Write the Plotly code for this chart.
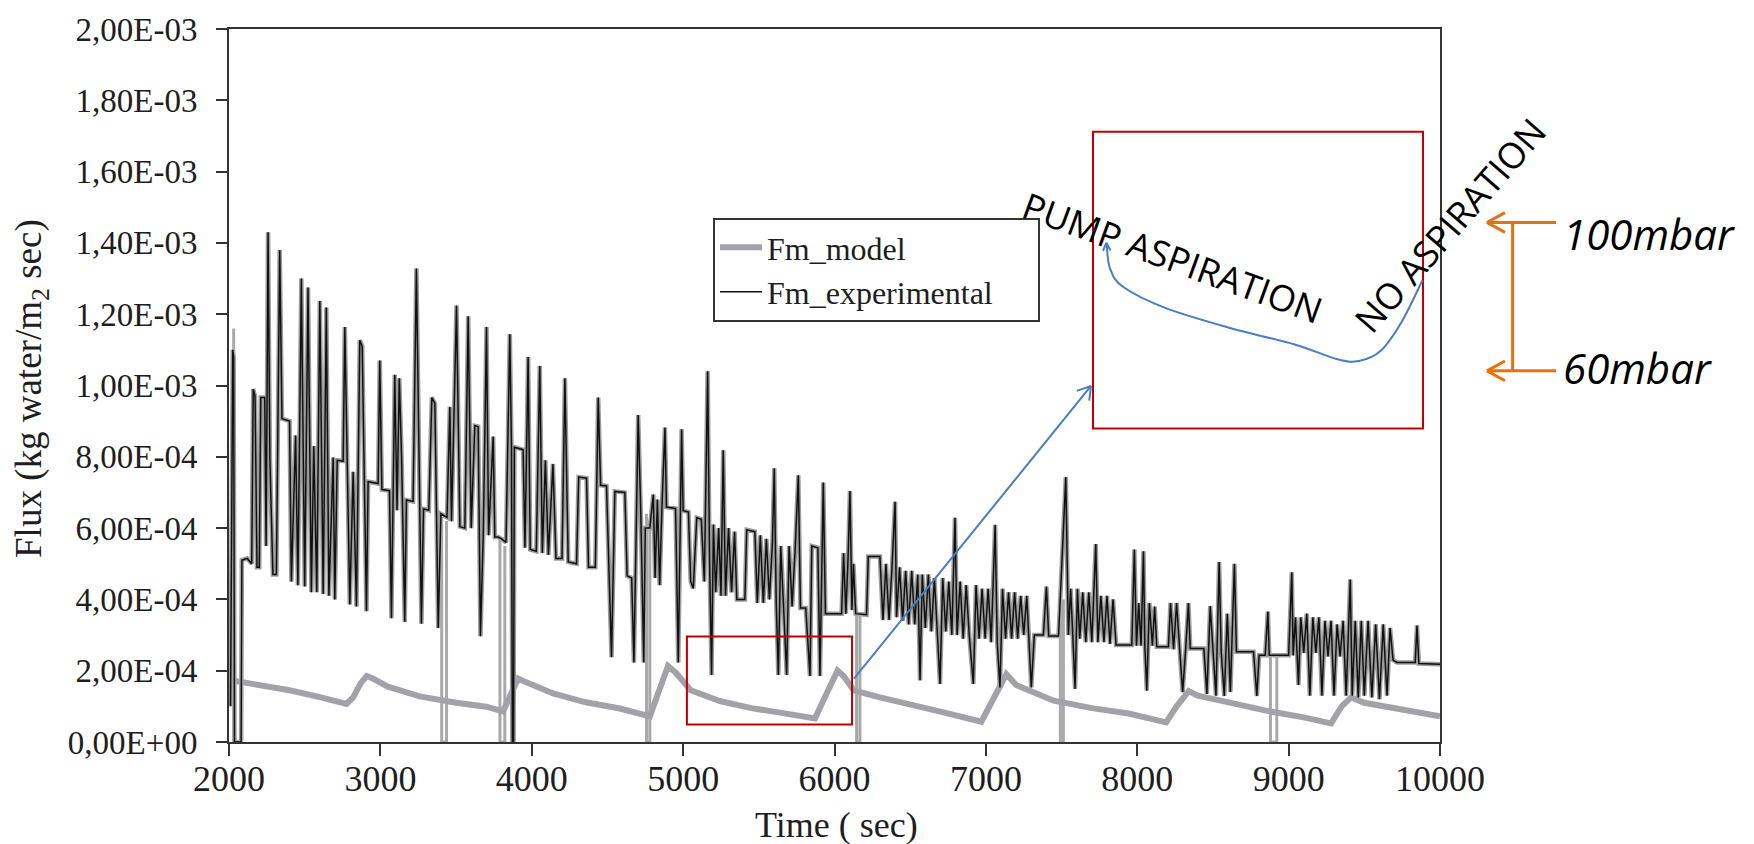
import plotly.graph_objects as go
import math

# ---------------- data (flux values in units of 1e-4 kg water / m2 sec) ----------------
model_time = [2000, 2200, 2400, 2600, 2776,
              2820, 2870, 2910, 2950, 3050,
              3260, 3500, 3700, 3810, 3860,
              3910, 3960, 4141, 4350, 4582,
              4780, 4830, 4900, 4950, 5050,
              5242, 5450, 5630, 5871, 5930,
              6020, 6060, 6127, 6300, 6456,
              6700, 6970, 7050, 7135, 7200,
              7448, 7700, 7943, 8191, 8260,
              8340, 8400, 8604, 8850, 9100,
              9280, 9350, 9412, 9500, 9700,
              10000]
model_flux = [1.74, 1.60, 1.45, 1.26, 1.07,
              1.25, 1.65, 1.85, 1.78, 1.55,
              1.28, 1.10, 0.99, 0.86, 1.30,
              1.78, 1.68, 1.36, 1.12, 0.94,
              0.72, 1.30, 2.13, 1.95, 1.45,
              1.15, 0.95, 0.83, 0.66, 1.20,
              2.00, 1.85, 1.45, 1.25, 1.11,
              0.85, 0.57, 1.20, 1.90, 1.60,
              1.16, 0.95, 0.80, 0.55, 1.00,
              1.43, 1.30, 1.11, 0.88, 0.69,
              0.52, 1.00, 1.25, 1.10, 0.95,
              0.72]

exp_time_a = [2010, 2025, 2031, 2036, 2080,
              2085, 2120, 2150, 2160, 2172,
              2185, 2200, 2210, 2236, 2245,
              2258, 2270, 2290, 2313, 2335,
              2350, 2400, 2412, 2440, 2455,
              2478, 2500, 2522, 2544, 2560,
              2580, 2600, 2622, 2643, 2660,
              2688, 2699, 2715, 2754, 2765,
              2798, 2820, 2842, 2864, 2880,
              2908, 2919, 2985, 2996, 3010,
              3060, 3073, 3095, 3110, 3125,
              3140, 3161, 3172, 3216, 3238,
              3271, 3285, 3320, 3340, 3360,
              3382, 3400]
exp_flux_a = [1.0, 11.0, 10.8, 0.0, 0.0,
              5.1, 5.15, 5.0, 9.9, 9.7,
              4.9, 4.9, 9.66, 9.66, 5.5,
              14.3, 8.0, 4.7, 4.7, 13.8,
              9.07, 9.0, 4.5, 8.6, 4.4,
              13.0, 4.36, 12.75, 4.2, 8.3,
              4.2, 12.37, 4.15, 12.19, 4.1,
              7.98, 4.0, 7.9, 7.88, 11.64,
              3.86, 7.58, 3.8, 11.27, 11.1,
              3.67, 7.3, 7.25, 10.7, 7.08,
              7.05, 3.47, 10.3, 6.5, 10.2,
              8.0, 3.37, 6.79, 6.75, 13.28,
              3.32, 6.54, 6.5, 9.66, 9.5,
              3.2, 6.4]

exp_time_b = [3440, 3459, 3470, 3503, 3525,
              3558, 3580, 3600, 3624, 3646,
              3661, 3680, 3701, 3715, 3745,
              3756, 3778, 3800, 3830, 3855,
              3866, 3872, 3880, 3885, 3943,
              3955, 3976, 3990, 4030, 4053,
              4070, 4090, 4110, 4140, 4160,
              4200, 4219, 4241, 4296, 4310,
              4362, 4375, 4420, 4439, 4455,
              4494, 4527, 4549, 4615, 4630,
              4660, 4675, 4703, 4720, 4740,
              4750]
exp_flux_b = [6.3, 9.4, 6.19, 12.24, 6.04,
              6.0, 11.94, 6.0, 8.87, 8.85,
              2.97, 5.9, 11.64, 5.8, 8.57,
              5.75, 5.75, 5.7, 5.6, 11.44,
              8.3, 0.0, 0.0, 8.27, 8.2,
              5.45, 10.8, 5.4, 5.35, 10.55,
              5.3, 7.9, 5.25, 7.8, 5.15,
              5.15, 10.2, 5.05, 5.0, 7.43,
              7.4, 4.9, 4.9, 9.66, 7.2,
              7.18, 2.38, 7.03, 7.0, 4.66,
              4.6, 2.23, 9.17, 6.5, 2.23,
              6.0]

exp_time_c = [4780, 4803, 4815, 4830, 4845,
              4860, 4880, 4890, 4950, 4968,
              4990, 5000, 5035, 5050, 5067,
              5090, 5120, 5140, 5162, 5175,
              5188, 5200, 5215, 5235, 5250,
              5265, 5280, 5300, 5320, 5340,
              5355, 5408, 5420, 5474, 5490,
              5510, 5530, 5550, 5570, 5590,
              5602, 5615, 5629, 5645, 5665,
              5684, 5700, 5720, 5740, 5761,
              5775, 5810, 5838, 5850, 5890,
              5904, 5926, 5940, 6047, 6060,
              6075, 6090, 6102, 6115, 6125,
              6140]
exp_flux_c = [6.0, 6.94, 4.6, 6.8, 4.4,
              6.6, 8.82, 6.59, 6.55, 2.23,
              8.77, 6.49, 6.45, 4.5, 4.31,
              6.29, 6.25, 4.5, 10.4, 5.0,
              1.88, 6.1, 4.2, 6.0, 4.1,
              8.18, 4.1, 6.0, 4.2, 5.9,
              4.0, 4.0, 5.95, 5.9, 3.9,
              5.8, 3.9, 5.7, 4.0, 5.6,
              7.68, 3.9, 1.88, 5.5, 3.8,
              1.88, 5.5, 3.8, 5.4, 7.48,
              3.76, 3.76, 1.85, 5.5, 5.45,
              1.85, 7.28, 3.6, 3.6, 5.3,
              3.6, 5.2, 7.04, 3.7, 5.0,
              3.6]

exp_time_d = [6212, 6223, 6300, 6320, 6340,
              6360, 6380, 6400, 6410, 6430,
              6450, 6470, 6490, 6510, 6530,
              6550, 6565, 6580, 6600, 6620,
              6640, 6660, 6680, 6697, 6715,
              6735, 6755, 6775, 6796, 6810,
              6830, 6850, 6870, 6890, 6917,
              6935, 6955, 6975, 6995, 7015,
              7035, 7061, 7075, 7093, 7110,
              7130, 7150, 7170, 7190, 7210,
              7230, 7250, 7270, 7300, 7320,
              7380, 7400, 7415, 7480, 7528,
              7545, 7560, 7575, 7589]
exp_flux_d = [3.57, 5.2, 5.2, 3.42, 5.0,
              3.42, 4.9, 6.74, 3.5, 4.9,
              3.4, 4.8, 3.3, 4.8, 3.3,
              4.7, 1.73, 4.7, 3.2, 4.7,
              3.1, 4.6, 3.0, 1.63, 4.6,
              3.1, 4.5, 3.0, 6.29, 3.0,
              4.5, 2.9, 4.4, 3.0, 1.63,
              4.4, 2.9, 4.3, 2.9, 4.3,
              2.8, 6.09, 2.8, 1.53, 4.3,
              2.9, 4.2, 2.9, 4.2, 2.9,
              4.1, 3.0, 4.1, 1.53, 3.0,
              3.0, 4.36, 2.97, 2.97, 7.43,
              3.0, 4.3, 2.9, 1.49]

exp_time_e = [7605, 7620, 7640, 7660, 7680,
              7700, 7726, 7740, 7760, 7780,
              7800, 7820, 7840, 7860, 7964,
              7981, 7995, 8010, 8025, 8041,
              8050, 8063, 8080, 8100, 8115,
              8129, 8206, 8220, 8240, 8260,
              8280, 8300, 8320, 8338, 8350,
              8440, 8460, 8482, 8500, 8520,
              8541, 8555, 8575, 8595, 8615,
              8642, 8655, 8768, 8790, 8805,
              8845, 8863, 8872, 9000, 9021,
              9030, 9045, 9065, 9080, 9100,
              9120, 9140, 9160, 9180, 9200,
              9220, 9240, 9260, 9280, 9300,
              9320, 9340, 9360, 9380, 9407,
              9420, 9440, 9460, 9480, 9500,
              9525, 9550, 9575, 9600, 9625,
              9650, 9670, 9690, 9715, 9836,
              9848, 9860, 10000]
exp_flux_e = [4.3, 2.9, 4.2, 2.8, 4.2,
              2.8, 5.55, 2.8, 4.1, 2.8,
              4.1, 2.75, 4.0, 2.72, 2.72,
              5.4, 2.7, 3.9, 2.7, 5.35,
              2.7, 1.44, 3.9, 2.7, 3.8,
              2.67, 2.67, 3.9, 2.6, 3.9,
              2.6, 1.4, 2.62, 3.9, 2.62,
              2.62, 1.35, 3.81, 2.6, 1.3,
              5.05, 2.5, 1.29, 3.6, 1.4,
              5.0, 2.53, 2.53, 1.29, 2.43,
              2.43, 3.66, 2.43, 2.43, 4.76,
              2.43, 3.5, 1.6, 3.5, 2.5,
              3.6, 1.3, 3.5, 2.5, 3.5,
              1.3, 3.4, 2.4, 3.4, 1.3,
              3.3, 2.4, 3.4, 1.3, 4.56,
              1.3, 3.4, 1.25, 3.4, 1.3,
              3.4, 1.25, 3.3, 1.2, 3.3,
              1.3, 3.2, 2.3, 2.23, 2.23,
              3.27, 2.2, 2.18]

# short drops of the experimental signal to zero (drawn grey)
drop_down_time = [2031, 3405, 3790, 4758, 6146, 7492, 8880]
drop_up_time = [2082, 3437, 3822, 4780, 6168, 7512, 8922]
drop_top_down = [11.6, 6.4, 5.7, 6.4, 3.6, 4.4, 2.5]
drop_top_up = [5.1, 6.2, 5.5, 6.0, 3.6, 4.0, 2.45]

# highlighted region (time, flux e-4)
zoom_box_time = [5025, 6116]
zoom_box_flux = [0.49, 2.96]

x_tick_vals = [2000, 3000, 4000, 5000, 6000, 7000, 8000, 9000, 10000]
x_tick_text = ["2000", "3000", "4000", "5000", "6000", "7000", "8000", "9000", "10000"]
y_tick_vals_e4 = [0, 2, 4, 6, 8, 10, 12, 14, 16, 18, 20]
y_tick_text = ["0,00E+00", "2,00E-04", "4,00E-04", "6,00E-04", "8,00E-04",
               "1,00E-03", "1,20E-03", "1,40E-03", "1,60E-03", "1,80E-03", "2,00E-03"]

SCALE = 1e-4

# ---------------- assemble ----------------
exp_time, exp_flux = [], []
for ts, fs in [(exp_time_a, exp_flux_a), (exp_time_b, exp_flux_b), (exp_time_c, exp_flux_c),
               (exp_time_d, exp_flux_d), (exp_time_e, exp_flux_e)]:
    for t, f in zip(ts, fs):
        exp_time.append(t)
        exp_flux.append(f * SCALE)

drop_x, drop_y = [], []
for t0, t1, a, b in zip(drop_down_time, drop_up_time, drop_top_down, drop_top_up):
    drop_x += [t0, t0, t1, t1, None]
    drop_y += [a * SCALE, 0, 0, b * SCALE, None]

SERIF = "Liberation Serif"
SANS = "Open Sans"
TXT = "#1e1e1e"

fig = go.Figure()
# grey halo under the experimental trace (as in the original print)
fig.add_trace(go.Scatter(x=list(exp_time), y=list(exp_flux), mode="lines", showlegend=False,
                         name="halo", line=dict(color="#9c9c9c", width=4.5, simplify=False),
                         hoverinfo="skip"))
fig.add_trace(go.Scatter(x=drop_x, y=drop_y, mode="lines", showlegend=False, name="drops",
                         line=dict(color="#a9a9a9", width=3), hoverinfo="skip"))
fig.add_trace(go.Scatter(x=model_time, y=[v * SCALE for v in model_flux], mode="lines",
                         name="Fm_model", line=dict(color="#a2a2a8", width=6)))
fig.add_trace(go.Scatter(x=exp_time, y=exp_flux, mode="lines",
                         name="Fm_experimental\u00a0\u00a0\u00a0\u00a0\u00a0",
                         line=dict(color="#111111", width=1.5)))

# ---------------- overlay drawings (pixel geometry -> paper) ----------------
L, R, T, B = 229, 1440, 21, 742
def px(x):
    return (x - L) / (R - L)
def py(y):
    return (B - y) / (B - T)

shapes = []
RED = "#c00000"
BLUE = "#4a7ebf"
ORANGE = "#e8700f"

shapes.append(dict(type="rect", xref="x", yref="y",
                   x0=zoom_box_time[0], x1=zoom_box_time[1],
                   y0=zoom_box_flux[0] * SCALE, y1=zoom_box_flux[1] * SCALE,
                   line=dict(color=RED, width=2)))
shapes.append(dict(type="rect", xref="paper", yref="paper",
                   x0=px(1093), x1=px(1423), y0=py(425), y1=py(125),
                   line=dict(color=RED, width=2)))

def seg(x0, y0, x1, y1, color, width):
    return dict(type="line", xref="paper", yref="paper",
                x0=px(x0), y0=py(y0), x1=px(x1), y1=py(y1),
                line=dict(color=color, width=width))

def open_head(xs, ys, xe, ye, length, ang, color, width):
    dx, dy = xe - xs, ye - ys
    n = math.hypot(dx, dy)
    ux, uy = dx / n, dy / n
    out = []
    for s in (1, -1):
        a = math.radians(ang) * s
        bx = -(ux * math.cos(a) - uy * math.sin(a)) * length
        by = -(ux * math.sin(a) + uy * math.cos(a)) * length
        out.append(seg(xe, ye, xe + bx, ye + by, color, width))
    return out

# blue straight arrow
shapes.append(seg(854, 678, 1091, 382, BLUE, 2))
shapes += open_head(854, 678, 1091, 382, 15, 32, BLUE, 2)

# blue curve inside the big box
curve = [(1106.6, 238.3), (1110, 263), (1123, 281.7), (1165.8, 303.3), (1230, 323.3),
         (1294.6, 340), (1337.5, 355), (1359, 356.7), (1380.4, 346.7), (1401.9, 316.7),
         (1422.5, 275)]
cp = [(px(a), py(b)) for a, b in curve]
d = "M%.5f,%.5f" % cp[0]
for i in range(len(cp) - 1):
    p0 = cp[i - 1] if i > 0 else cp[i]
    p1 = cp[i]
    p2 = cp[i + 1]
    p3 = cp[i + 2] if i + 2 < len(cp) else cp[i + 1]
    c1 = (p1[0] + (p2[0] - p0[0]) / 6, p1[1] + (p2[1] - p0[1]) / 6)
    c2 = (p2[0] - (p3[0] - p1[0]) / 6, p2[1] - (p3[1] - p1[1]) / 6)
    d += " C%.5f,%.5f %.5f,%.5f %.5f,%.5f" % (c1[0], c1[1], c2[0], c2[1], p2[0], p2[1])
shapes.append(dict(type="path", xref="paper", yref="paper", path=d,
                   line=dict(color=BLUE, width=2)))
shapes += open_head(1107, 250, 1106.4, 237, 9, 25, BLUE, 2)

# orange bracket
shapes.append(seg(1512.6, 216.7, 1512.6, 366.7, ORANGE, 3))
for yy in (216.7, 366.7):
    shapes.append(seg(1487, yy, 1556, yy, ORANGE, 3))
    shapes.append(seg(1487, yy, 1505, yy - 10, ORANGE, 3))
    shapes.append(seg(1487, yy, 1505, yy + 10, ORANGE, 3))

annotations = [
    dict(text="PUMP ASPIRATION", x=px(1172), y=py(252), xref="paper", yref="paper",
         showarrow=False, textangle=20, xanchor="center", yanchor="middle",
         font=dict(family=SANS, size=36, color="#000")),
    dict(text="NO ASPIRATION", x=px(1450), y=py(220), xref="paper", yref="paper",
         showarrow=False, textangle=-49, xanchor="center", yanchor="middle",
         font=dict(family=SANS, size=36, color="#000")),
    dict(text="<i>100mbar</i>", x=px(1561), y=py(228), xref="paper", yref="paper",
         showarrow=False, xanchor="left", yanchor="middle",
         font=dict(family=SANS, size=42, color="#000")),
    dict(text="<i>60mbar</i>", x=px(1561), y=py(363), xref="paper", yref="paper",
         showarrow=False, xanchor="left", yanchor="middle",
         font=dict(family=SANS, size=42, color="#000")),
    dict(text="Flux (kg water/m<sub>2</sub> sec)", x=px(32), y=py(385), xref="paper", yref="paper",
         showarrow=False, textangle=-90, xanchor="center", yanchor="middle",
         font=dict(family=SERIF, size=37, color=TXT)),
    dict(text="Time ( sec)", x=px(836), y=py(826), xref="paper", yref="paper",
         showarrow=False, xanchor="center", yanchor="middle",
         font=dict(family=SERIF, size=36, color=TXT)),
]

fig.update_layout(
    width=1754, height=844,
    margin=dict(l=L, r=1754 - R, t=T, b=844 - B, pad=0),
    paper_bgcolor="white", plot_bgcolor="white",
    shapes=shapes, annotations=annotations,
    legend=dict(x=px(713), y=py(212), xanchor="left", yanchor="top",
                bgcolor="white", bordercolor="#333", borderwidth=2,
                font=dict(family=SERIF, size=32, color=TXT),
                itemwidth=42, tracegroupgap=0),
    xaxis=dict(range=[2000, 10000], tickvals=x_tick_vals, ticktext=x_tick_text,
               ticks="outside", ticklen=12, tickwidth=2, tickcolor="#333",
               showline=True, linewidth=2, linecolor="#333", mirror=True,
               showgrid=False, zeroline=False, ticklabelstandoff=-8,
               tickfont=dict(family=SERIF, size=36, color=TXT)),
    yaxis=dict(range=[0, 20 * SCALE], tickvals=[v * SCALE for v in y_tick_vals_e4],
               ticktext=y_tick_text,
               ticks="outside", ticklen=11, tickwidth=2, tickcolor="#333",
               showline=True, linewidth=2, linecolor="#333", mirror=True,
               showgrid=False, zeroline=False, ticklabelstandoff=12,
               tickfont=dict(family=SERIF, size=33, color=TXT)),
)

fig.write_html("out.html", config={"displayModeBar": False},
               post_script="document.body.style.margin='0';")
